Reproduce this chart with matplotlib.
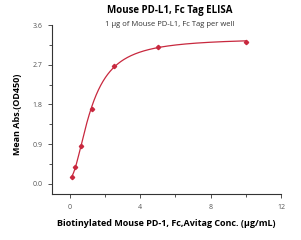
import numpy as np
import matplotlib
matplotlib.use("Agg")
import matplotlib.pyplot as plt
from matplotlib.ticker import MultipleLocator

# Data
conc = np.array([0.156, 0.313, 0.625, 1.25, 2.5, 5.0, 10.0])
od450 = np.array([0.16, 0.38, 0.86, 1.69, 2.67, 3.11, 3.21])

title = "Mouse PD-L1, Fc Tag ELISA"
subtitle = "1 \u00b5g of Mouse PD-L1, Fc Tag per well"
xlabel = "Biotinylated Mouse PD-1, Fc,Avitag Conc. (\u00b5g/mL)"
ylabel = "Mean Abs.(OD450)"
color = "#c8283e"


def four_pl(x, p):
    bottom, top, ec50, hill = p
    return bottom + (top - bottom) / (1 + (ec50 / x) ** hill)


def fit_4pl(x, y, p0, iters=200):
    # small Levenberg-Marquardt fit, no scipy needed
    p = np.array(p0, dtype=float)
    lam = 1e-2
    for _ in range(iters):
        r = y - four_pl(x, p)
        J = np.zeros((len(x), len(p)))
        for k in range(len(p)):
            dp = np.zeros_like(p)
            dp[k] = 1e-6 * max(abs(p[k]), 1.0)
            J[:, k] = (four_pl(x, p + dp) - four_pl(x, p)) / dp[k]
        A = J.T @ J
        step = np.linalg.solve(A + lam * np.diag(np.diag(A)), J.T @ r)
        new = p + step
        if new[2] > 0 and np.sum((y - four_pl(x, new)) ** 2) < np.sum(r ** 2):
            p = new
            lam *= 0.5
        else:
            lam *= 4
    return p


params = fit_4pl(conc, od450, [0.0, 3.3, 1.2, 1.3])
xs = np.linspace(conc.min(), conc.max(), 300)

plt.rcParams['font.family'] = ['Open Sans', 'DejaVu Sans']
fig = plt.figure(figsize=(3.01, 2.40), dpi=100)
ax = fig.add_axes([52 / 301, 46 / 240, 229 / 301, 169 / 240])

ax.plot(xs, four_pl(xs, params), '-', color=color, linewidth=0.9)
ax.plot(conc, od450, 'D', color=color, markersize=2.2, linestyle='none')

ax.set_xlim(-1.0, 12.0)
ax.set_ylim(-0.23, 3.6)
ax.xaxis.set_major_locator(MultipleLocator(4))
ax.xaxis.set_minor_locator(MultipleLocator(2))
ax.yaxis.set_major_locator(MultipleLocator(0.9))
ax.yaxis.set_minor_locator(MultipleLocator(0.45))
ax.yaxis.set_major_formatter(plt.FuncFormatter(lambda v, p: f'{v:.1f}'))

for side in ['top', 'right']:
    ax.spines[side].set_visible(False)
for side in ['left', 'bottom']:
    ax.spines[side].set_color('#333333')
    ax.spines[side].set_linewidth(0.8)
ax.tick_params(which='major', length=3, width=0.6, labelsize=5, colors='#333333',
               labelcolor='#555555', pad=4)
ax.tick_params(which='minor', length=2, width=0.6, colors='#333333')

ax.set_xlabel(xlabel, fontsize=6.5, fontweight='bold', labelpad=6)
ax.set_ylabel(ylabel, fontsize=6.5, fontweight='bold', labelpad=5)
ax.yaxis.set_label_coords(-0.13, 0.47)

fig.text(0.565, 0.955, title, ha='center', va='center', fontsize=7, fontweight='bold')
fig.text(0.565, 0.897, subtitle, ha='center', va='center', fontsize=5.5, color='#333333')

fig.savefig("out.png", dpi=100)
